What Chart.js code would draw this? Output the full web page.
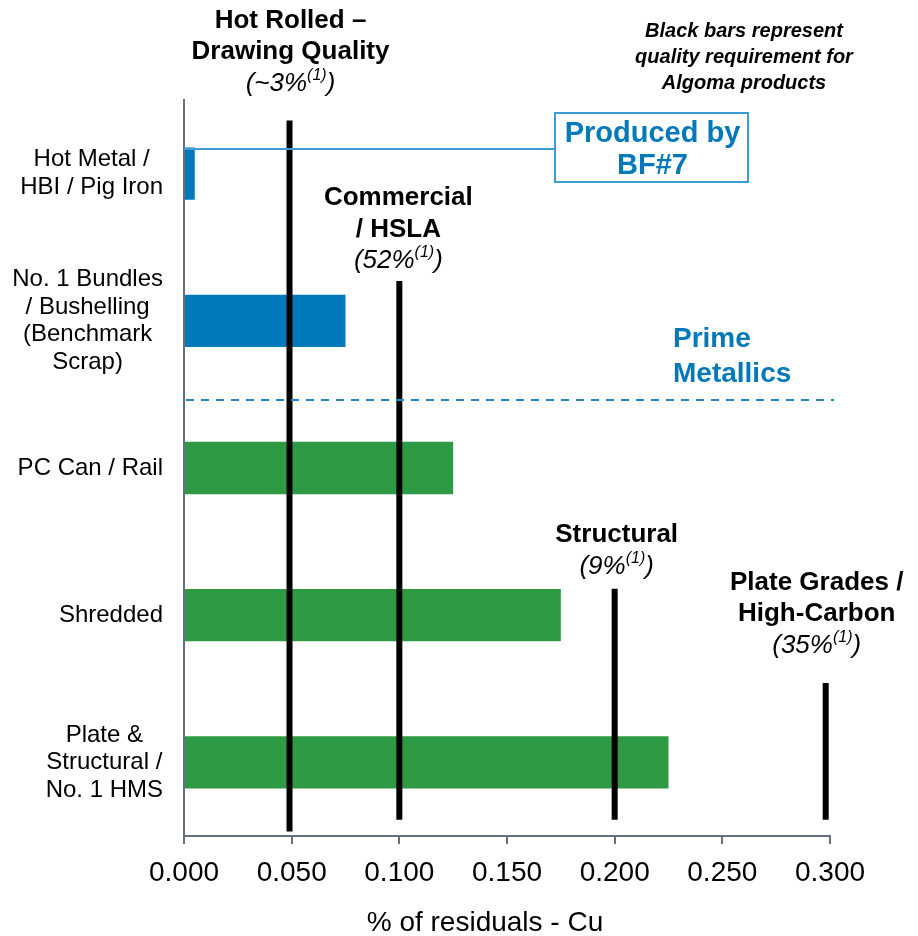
<!DOCTYPE html>
<html>
<head>
<meta charset="utf-8">
<script src="https://cdn.jsdelivr.net/npm/chart.js@4/dist/chart.umd.min.js"></script>
<style>
  html, body { margin: 0; padding: 0; background: #ffffff; }
  #wrap { width: 918px; height: 936px; position: relative; }
</style>
</head>
<body>
<div id="wrap"><canvas id="c" width="918" height="936"></canvas></div>
<script>
// Scrap / metallics sources and their copper residual levels
const categories = [
  ['Hot Metal /', 'HBI / Pig Iron'],
  ['No. 1 Bundles', '/ Bushelling', '(Benchmark', 'Scrap)'],
  ['PC Can / Rail'],
  ['Shredded'],
  ['Plate &', 'Structural /', 'No. 1 HMS']
];
const residualCu = [0.005, 0.075, 0.125, 0.175, 0.225];
const sourceGroup = ['prime', 'prime', 'scrap', 'scrap', 'scrap'];

// Axis ticks
const xTickValues = [0, 0.05, 0.10, 0.15, 0.20, 0.25, 0.30];
const xTickLabels = ['0.000', '0.050', '0.100', '0.150', '0.200', '0.250', '0.300'];

// Product grades: maximum Cu allowed and share of shipments
const gradeNames = [['Hot Rolled –', 'Drawing Quality'], ['Commercial', '/ HSLA'], ['Structural'], ['Plate Grades /', 'High-Carbon']];
const gradeShares = ['~3%', '52%', '9%', '35%'];
const gradeCuLimit = [0.049, 0.100, 0.200, 0.298];
// vertical extent of each requirement bar, in category units
const gradeSpanFrom = [-0.36, 0.73, 2.82, 3.46];
const gradeSpanTo = [4.47, 4.39, 4.39, 4.39];

const BLUE = '#0179bb';
const GREEN = '#2f9a44';
const AXIS = '#67717c';
const FONT = '"Liberation Sans", Arial, Helvetica, sans-serif';

const groupColor = { prime: BLUE, scrap: GREEN };

const datasets = [{
  type: 'bar',
  label: 'Cu residuals',
  indexAxis: 'y',
  data: residualCu,
  backgroundColor: sourceGroup.map(g => groupColor[g]),
  borderWidth: 0,
  categoryPercentage: 1,
  barPercentage: 0.355,
  xAxisID: 'x',
  yAxisID: 'y',
  order: 2
}];

gradeCuLimit.forEach((v, i) => {
  datasets.push({
    type: 'line',
    label: gradeNames[i].join(' '),
    data: [{ x: v, y: gradeSpanFrom[i] }, { x: v, y: gradeSpanTo[i] }],
    borderColor: '#000000',
    borderWidth: 6,
    borderCapStyle: 'butt',
    pointRadius: 0,
    pointHoverRadius: 0,
    fill: false,
    xAxisID: 'x',
    yAxisID: 'yr',
    order: 1
  });
});

function runsWidth(ctx, runs) {
  let w = 0;
  runs.forEach(r => { ctx.font = r.font; w += ctx.measureText(r.text).width; });
  return w;
}
function drawRuns(ctx, runs, cx, baseline) {
  let x = cx - runsWidth(ctx, runs) / 2;
  runs.forEach(r => {
    ctx.font = r.font;
    ctx.textAlign = 'left';
    ctx.fillText(r.text, x, baseline + (r.dy || 0));
    x += ctx.measureText(r.text).width;
  });
}

// Category labels: each block right-aligned to the axis, its lines centred
const categoryLabels = {
  id: 'categoryLabels',
  afterDraw(chart) {
    const ctx = chart.ctx;
    const ys = chart.scales.y;
    const right = ys.right - 21;
    const lh = 27.5;
    ctx.save();
    ctx.font = '24px ' + FONT;
    ctx.fillStyle = '#000000';
    ctx.textAlign = 'center';
    ctx.textBaseline = 'middle';
    categories.forEach((lines, i) => {
      const w = Math.max(...lines.map(t => ctx.measureText(t).width));
      const cx = right - w / 2;
      const cy = ys.getPixelForValue(i);
      lines.forEach((t, k) => {
        ctx.fillText(t, cx, cy + (k - (lines.length - 1) / 2) * lh);
      });
    });
    ctx.restore();
  }
};

const annotations = {
  id: 'annotations',
  afterDatasetsDraw(chart) {
    const ctx = chart.ctx;
    const xs = chart.scales.x;
    const yr = chart.scales.yr;
    const area = chart.chartArea;
    ctx.save();
    ctx.textBaseline = 'alphabetic';

    // separator between prime metallics and obsolete scrap
    ctx.strokeStyle = '#1f88c8';
    ctx.lineWidth = 2;
    ctx.setLineDash([8, 7]);
    const ySep = Math.round(yr.getPixelForValue(1.54));
    ctx.beginPath();
    ctx.moveTo(area.left + 2, ySep);
    ctx.lineTo(area.right + 4, ySep);
    ctx.stroke();
    ctx.setLineDash([]);

    ctx.fillStyle = BLUE;
    ctx.font = 'bold 28px ' + FONT;
    ctx.textAlign = 'left';
    ctx.fillText('Prime', 673, 347);
    ctx.fillText('Metallics', 673, 382);

    // callout from the hot metal bar
    const bar0 = chart.getDatasetMeta(0).data[0];
    const yCall = bar0.y - bar0.height / 2 + 1.5;
    const box = { l: 555, t: 113, r: 748, b: 182 };
    ctx.strokeStyle = '#3d9dd6';
    ctx.lineWidth = 2;
    ctx.beginPath();
    ctx.moveTo(area.left, yCall);
    ctx.lineTo(box.l, yCall);
    ctx.stroke();
    ctx.strokeRect(box.l, box.t, box.r - box.l, box.b - box.t);
    ctx.fillStyle = BLUE;
    ctx.font = 'bold 29px ' + FONT;
    ctx.textAlign = 'center';
    ctx.fillText('Produced by', (box.l + box.r) / 2 + 1, 142);
    ctx.fillText('BF#7', (box.l + box.r) / 2 + 1, 174);

    // grade labels above each requirement bar
    const gap = [30, 13, 15, 30];
    const dx = [1, -1, 2, -9];
    ctx.fillStyle = '#000000';
    gradeCuLimit.forEach((v, i) => {
      const cx = xs.getPixelForValue(v) + dx[i];
      const top = yr.getPixelForValue(gradeSpanFrom[i]);
      const shareBase = top - gap[i];
      const names = gradeNames[i];
      ctx.font = 'bold 26px ' + FONT;
      ctx.textAlign = 'center';
      names.forEach((t, k) => {
        ctx.fillText(t, cx, shareBase - 31.5 * (names.length - k));
      });
      drawRuns(ctx, [
        { text: '(' + gradeShares[i], font: 'italic 26px ' + FONT },
        { text: '(1)', font: 'italic 16px ' + FONT, dy: -11 },
        { text: ')', font: 'italic 26px ' + FONT }
      ], cx, shareBase);
    });

    // note in the top right corner
    ctx.font = 'italic bold 20px ' + FONT;
    ctx.textAlign = 'center';
    ctx.fillText('Black bars represent', 744, 37);
    ctx.fillText('quality requirement for', 744, 63);
    ctx.fillText('Algoma products', 744, 89);

    // x axis title
    ctx.font = '28px ' + FONT;
    ctx.textAlign = 'center';
    ctx.fillText('% of residuals - Cu', 485, 931);
    ctx.restore();
  }
};

new Chart(document.getElementById('c'), {
  data: { labels: categories, datasets: datasets },
  options: {
    responsive: false,
    animation: false,
    devicePixelRatio: 1,
    layout: { padding: { top: 100, right: 88, bottom: 0, left: 0 } },
    plugins: { legend: { display: false }, tooltip: { enabled: false } },
    scales: {
      x: {
        type: 'linear',
        position: 'bottom',
        min: 0,
        max: 0.3,
        afterBuildTicks(scale) { scale.ticks = xTickValues.map(v => ({ value: v })); },
        afterFit(scale) { scale.height = 100; },
        ticks: {
          padding: 12,
          color: '#000000',
          font: { family: FONT, size: 28 },
          callback: (v, i) => xTickLabels[i]
        },
        grid: { drawOnChartArea: false, drawTicks: true, tickLength: 8, color: AXIS, lineWidth: 2 },
        border: { display: true, color: AXIS, width: 2 }
      },
      y: {
        type: 'category',
        position: 'left',
        offset: true,
        afterFit(scale) { scale.width = 184; },
        ticks: { display: false },
        grid: { display: false },
        border: { display: true, color: AXIS, width: 2 }
      },
      yr: {
        type: 'linear',
        axis: 'y',
        display: false,
        min: -0.5,
        max: 4.5,
        reverse: true
      }
    }
  },
  plugins: [annotations, categoryLabels]
});
</script>
</body>
</html>
